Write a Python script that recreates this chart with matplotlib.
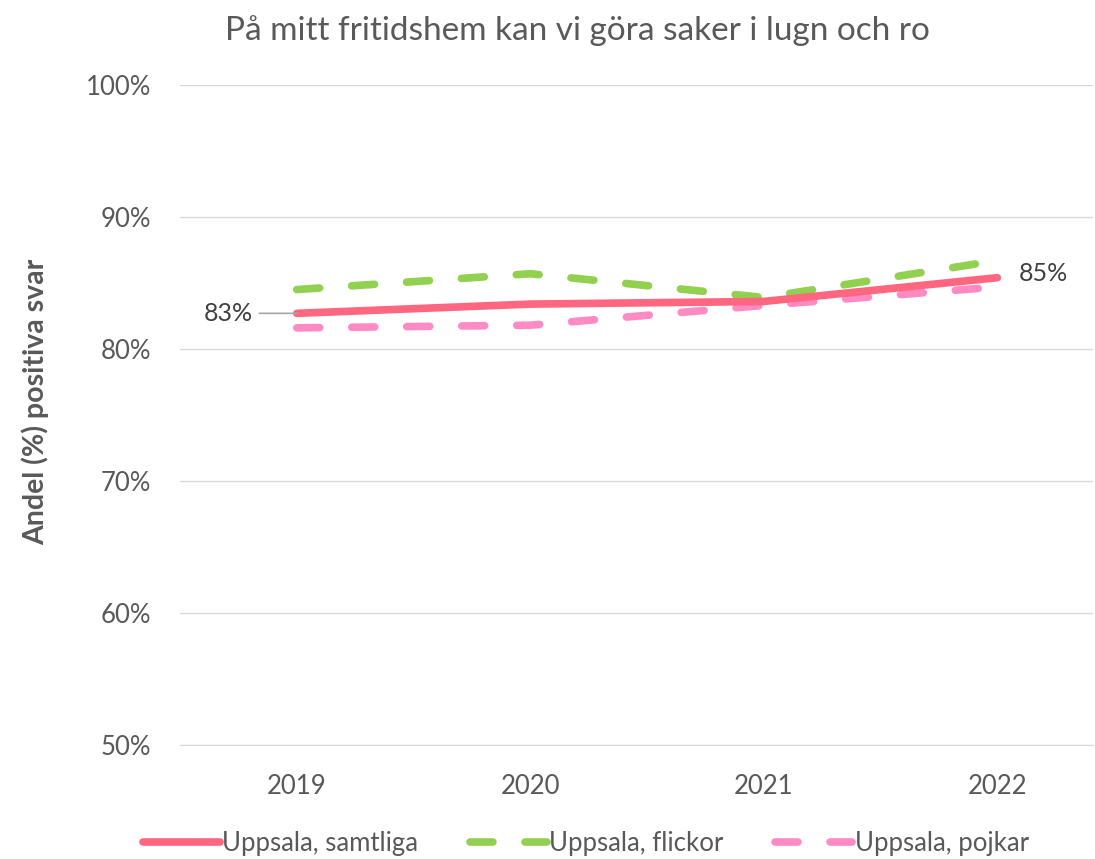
import matplotlib.pyplot as plt

years = ["2019", "2020", "2021", "2022"]
samtliga = [82.7, 83.4, 83.6, 85.4]
flickor = [84.5, 85.7, 83.9, 86.7]
pojkar = [81.6, 81.8, 83.3, 84.7]

plt.rcParams['font.family'] = ['Lato', 'DejaVu Sans']

fig = plt.figure(figsize=(10.95, 8.59), dpi=100)
ax = fig.add_axes([0.1644, 0.1327, 0.8338, 0.7684])

x = range(len(years))
ax.plot(x, samtliga, color="#FF6680", lw=5.5, solid_capstyle="round", label="Uppsala, samtliga", zorder=3)
ax.plot(x, flickor, color="#92D050", lw=5.5, dashes=(3.0, 4.2), dash_capstyle="round", label="Uppsala, flickor", zorder=2)
ax.plot(x, pojkar, color="#FF8AC4", lw=5.5, dashes=(3.0, 4.2), dash_capstyle="round", label="Uppsala, pojkar", zorder=2)

# data labels
ax.annotate("83%", xy=(0, samtliga[0]), xytext=(-0.19, samtliga[0]), fontsize=18, color="#404040",
            ha="right", va="center",
            arrowprops=dict(arrowstyle="-", color="#A6A6A6", lw=1.2, shrinkA=3, shrinkB=0))
ax.text(3.09, samtliga[-1] + 0.3, "85%", fontsize=18, color="#404040", ha="left", va="center")

ax.set_ylim(50, 100)
ax.set_yticks([50, 60, 70, 80, 90, 100])
ax.set_yticklabels([f"{v}%" for v in [50, 60, 70, 80, 90, 100]])
ax.set_xlim(-0.5, 3.41)
ax.set_xticks(list(x))
ax.set_xticklabels(years)
ax.tick_params(axis="both", length=0, labelsize=18.5, labelcolor="#595959")
ax.tick_params(axis="x", pad=21)
ax.tick_params(axis="y", pad=21)
ax.grid(axis="y", color="#D9D9D9", lw=1)
ax.set_axisbelow(True)
for s in ["top", "right", "left"]:
    ax.spines[s].set_visible(False)
ax.spines["bottom"].set_color("#D9D9D9")

fig.text(0.527, 0.965, "På mitt fritidshem kan vi göra saker i lugn och ro", fontsize=24,
         color="#595959", ha="center", va="center")
fig.text(0.032, 0.532, "Andel (%) positiva svar", fontsize=20.5, fontweight="bold",
         color="#595959", rotation=90, ha="center", va="center")

fig.legend(loc="center", bbox_to_anchor=(0.535, 0.018), ncol=3, frameon=False,
           fontsize=18.5, labelcolor="#595959", handlelength=3.0, handletextpad=0.1,
           columnspacing=2.0)

fig.savefig("out.png", dpi=100)
